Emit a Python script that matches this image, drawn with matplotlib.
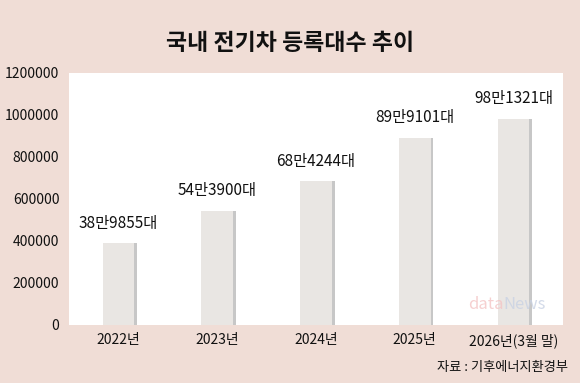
import matplotlib.pyplot as plt
import matplotlib.patheffects as pe

plt.rcParams['font.family'] = ['Noto Sans CJK KR', 'DejaVu Sans']

years = ['2022년', '2023년', '2024년', '2025년', '2026년(3월 말)']
counts = [389855, 543900, 684244, 891101, 981321]
labels = ['38만9855대', '54만3900대', '68만4244대', '89만9101대', '98만1321대']
yticks = [0, 200000, 400000, 600000, 800000, 1000000, 1200000]

bg = '#f0ddd6'
fig = plt.figure(figsize=(5.8, 3.83), dpi=100, facecolor=bg)
ax = fig.add_axes([69 / 580, 1 - 325 / 383, 494 / 580, 252 / 383])
ax.set_facecolor('white')

x = range(len(years))
bars = ax.bar(x, counts, width=0.32, color='#e9e6e3', zorder=2)
for b in bars:
    b.set_path_effects([pe.SimplePatchShadow(offset=(2, 0), shadow_rgbFace='#9a9a9a', alpha=0.55),
                        pe.Normal()])

for i, (v, t) in enumerate(zip(counts, labels)):
    ax.text(i, v + 55000, t, ha='center', va='bottom', fontsize=11, color='#111111')

ax.set_xlim(-0.5, 4.5)
ax.set_ylim(0, 1200000)
ax.set_yticks(yticks)
ax.set_yticklabels([str(t) for t in yticks], fontsize=10, color='#111111', fontweight='medium')
ax.set_xticks(list(x))
ax.set_xticklabels(years, fontsize=10, color='#111111', fontweight='medium')
ax.tick_params(length=0, pad=6)
ax.tick_params(axis='y', pad=7)
for s in ax.spines.values():
    s.set_visible(False)

fig.text(0.5, 1 - 43 / 383, '국내 전기차 등록대수 추이', ha='center', va='center',
         fontsize=16.5, fontweight='black', color='#111111')
fig.text(568 / 580, 1 - 368 / 383, '자료 : 기후에너지환경부', ha='right', va='center',
         fontsize=9.5, fontweight='medium', color='#111111')
ax.text(0.88, 0.08, 'data', transform=ax.transAxes, ha='right', va='center',
        fontsize=12, color='#f4c5c5', alpha=0.8, zorder=3)
ax.text(0.88, 0.08, 'News', transform=ax.transAxes, ha='left', va='center',
        fontsize=12, color='#c9d2e4', alpha=0.8, zorder=3)

fig.savefig('out.png', dpi=100, facecolor=bg)
